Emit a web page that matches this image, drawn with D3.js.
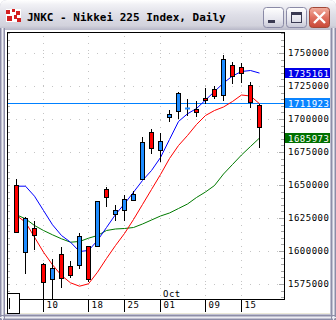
<!DOCTYPE html>
<html>
<head>
<meta charset="utf-8">
<script src="https://cdn.jsdelivr.net/npm/d3@7"></script>
<style>
  html, body { margin: 0; padding: 0; background: #fff; }
  svg { display: block; }
  text { font-family: "DejaVu Sans Mono", "Liberation Mono", monospace; }
</style>
</head>
<body>
<div id="chart"></div>
<script>
  var title = 'JNKC - Nikkei 225 Index, Daily';

  var dates = ['2007-09-05','2007-09-06','2007-09-07','2007-09-10','2007-09-11','2007-09-12','2007-09-13',
               '2007-09-14','2007-09-18','2007-09-19','2007-09-20','2007-09-21','2007-09-25','2007-09-26',
               '2007-09-27','2007-09-28','2007-10-01','2007-10-02','2007-10-03','2007-10-04','2007-10-05',
               '2007-10-09','2007-10-10','2007-10-11','2007-10-12','2007-10-15','2007-10-16','2007-10-17'];

  var opens  = [1650000,1599470,1617420,1589920,1578560,1597500,1588480,1589170,1603560,1603790,1646740,1627880,1631060,1638480,
                1654320,1689920,1676140,1701740,1705830,1707950,1707200,1716140,1722500,1718180,1740760,1739240,1725760,1710450];
  var highs  = [1654550,1625990,1622350,1590530,1593710,1603030,1592800,1613410,1603790,1637650,1648710,1634470,1642050,1645450,
                1686360,1692420,1689170,1706440,1720230,1714920,1713640,1723480,1724770,1748480,1743180,1742200,1728030,1710990];
  var lows   = [1614500,1583560,1601890,1564620,1564010,1572730,1580080,1587120,1577270,1603790,1633860,1623710,1623110,1638480,
                1654320,1674620,1667950,1698260,1700530,1703030,1702270,1712120,1715680,1714620,1727050,1728260,1709320,1678410];
  var closes = [1614620,1624770,1612120,1576140,1586970,1579170,1581440,1611740,1579020,1637500,1640680,1630910,1639240,1642950,
                1682350,1677800,1683710,1703640,1719470,1708110,1705680,1714550,1717050,1745230,1732200,1734700,1712650,1694170];

  var maShort = [1649470,1649470,1641890,1631060,1620230,1612120,1607050,1600000,1600760,1608330,1618180,1628030,1636140,1644920,
                 1653790,1661360,1671210,1684850,1698490,1704320,1708330,1714770,1721210,1727650,1732960,1736360,1737120,1735161];
  var maMid   = [1627270,1622200,1610830,1599470,1589920,1581820,1576290,1573710,1575530,1584320,1594700,1604550,1613640,1624240,
                 1635610,1646970,1658330,1670450,1680300,1687880,1696210,1703030,1706820,1709470,1713640,1718560,1717800,1711923];
  var maLong  = [1627800,1624770,1619700,1615910,1612650,1609620,1607050,1607580,1610080,1612120,1615910,1617050,1617420,1618180,
                 1620830,1623860,1626890,1629170,1632580,1635980,1640910,1645080,1650000,1658710,1665910,1673110,1679550,1685973];

  var level = 1711923;

  var priceTicks = [1575000,1600000,1625000,1650000,1675000,1700000,1725000,1750000];
  var dateTicks = ['2007-09-10','2007-09-18','2007-09-25','2007-10-01','2007-10-09','2007-10-15'];
  var dateTickLabels = ['10','18','25','01','09','15'];
  var monthLabel = 'Oct';
  var monthDate = '2007-10-01';

  var W = 336, H = 320;
  var plot = {left: 7, top: 32, right: 284, bottom: 299};

  var svg = d3.select('#chart').append('svg')
              .attr('width', W)
              .attr('height', H);

  var defs = svg.append('defs');
  function grad(id, stops){
    var g = defs.append('linearGradient').attr('id', id)
              .attr('x1', 0).attr('y1', 0).attr('x2', 0).attr('y2', 1);
    stops.forEach(function(s){
      g.append('stop').attr('offset', s[0]).attr('stop-color', s[1]);
    });
  }
  grad('titleGrad', [[0,'#ffffff'],[0.15,'#f1f1f5'],[0.5,'#dedee7'],[0.85,'#d2d2dc'],[1,'#b8b8c8']]);
  grad('btnGrad', [[0,'#ffffff'],[0.6,'#e6e6ee'],[1,'#c8c8d6']]);
  grad('closeGrad', [[0,'#f2b0a0'],[0.5,'#e07060'],[1,'#c84838']]);

  // window frame
  svg.append('path')
     .attr('d', 'M0,320 L0,7 Q0,0 7,0 L329,0 Q336,0 336,7 L336,320 Z')
     .attr('fill', '#c0c0d0');
  svg.append('path')
     .attr('d', 'M0,30 L0,7 Q0,0 7,0 L329,0 Q336,0 336,7 L336,30 Z')
     .attr('fill', 'url(#titleGrad)');
  [[0.5,'#8c8ca6'],[2.5,'#ececf2'],[4.5,'#8e8ea8']].forEach(function(s){
    svg.append('line').attr('x1', s[0]).attr('x2', s[0]).attr('y1', 28).attr('y2', 320)
       .attr('stroke', s[1]);
    svg.append('line').attr('x1', W - s[0]).attr('x2', W - s[0]).attr('y1', 28).attr('y2', 320)
       .attr('stroke', s[1]);
    svg.append('line').attr('x1', 0).attr('x2', W).attr('y1', H - s[0]).attr('y2', H - s[0])
       .attr('stroke', s[1]);
  });
  svg.append('rect')
     .attr('x', 5).attr('y', 30).attr('width', 325).attr('height', 284)
     .attr('fill', '#ffffff');
  svg.append('line').attr('x1', 5).attr('x2', 330).attr('y1', 313.5).attr('y2', 313.5)
     .attr('stroke', '#ece9d8');

  // title bar
  var ic = svg.append('g').attr('transform', 'translate(6,9)');
  ic.append('rect').attr('width', 15).attr('height', 13).attr('fill', '#ffffff');
  [[0,1,4,4],[6,0,3,3],[10,2,4,4],[1,7,5,5],[8,6,3,4],[11,9,4,4]].forEach(function(r){
    ic.append('rect').attr('x', r[0]).attr('y', r[1]).attr('width', r[2]).attr('height', r[3])
      .attr('fill', '#d42020');
  });
  svg.append('text')
     .attr('x', 27).attr('y', 21)
     .attr('font-size', 11).attr('font-weight', 'bold')
     .attr('fill', '#000')
     .text(title);

  var btns = [263.5, 286.5];
  btns.forEach(function(bx){
    svg.append('rect').attr('x', bx).attr('y', 7.5).attr('width', 20).attr('height', 20).attr('rx', 3)
       .attr('fill', 'url(#btnGrad)').attr('stroke', '#8a8aa6');
  });
  svg.append('rect').attr('x', 268).attr('y', 20).attr('width', 7).attr('height', 3).attr('fill', '#3a3a52');
  svg.append('rect').attr('x', 291.5).attr('y', 12.5).attr('width', 10).attr('height', 10)
     .attr('fill', 'none').attr('stroke', '#3a3a52');
  svg.append('rect').attr('x', 291).attr('y', 12).attr('width', 11).attr('height', 3).attr('fill', '#3a3a52');
  svg.append('rect').attr('x', 309.5).attr('y', 7.5).attr('width', 20).attr('height', 20).attr('rx', 3)
     .attr('fill', 'url(#closeGrad)').attr('stroke', '#a04838');
  svg.append('path').attr('d', 'M314,12 L325,23 M325,12 L314,23')
     .attr('stroke', '#ffffff').attr('stroke-width', 2.4);

  // scales
  var xs = d3.scalePoint().domain(dates).range([16, 259]);
  var ys = d3.scaleLinear().domain([1563636, 1765909]).range([plot.bottom, plot.top]);
  function py(v){ return Math.round(ys(v)) + 0.5; }

  var chart = svg.append('g');

  // dotted grid
  chart.selectAll('.hgrid')
       .data(priceTicks)
       .enter()
       .append('line')
       .attr('x1', 16).attr('x2', plot.right)
       .attr('y1', py).attr('y2', py)
       .attr('stroke', '#c4c4c4')
       .attr('stroke-dasharray', '1,8');
  chart.selectAll('.vgrid')
       .data(dateTicks)
       .enter()
       .append('line')
       .attr('x1', function(d){ return xs(d) + 0.5; })
       .attr('x2', function(d){ return xs(d) + 0.5; })
       .attr('y1', plot.top + 4).attr('y2', plot.bottom)
       .attr('stroke', '#c4c4c4')
       .attr('stroke-dasharray', '1,6');

  // small ticks on both inner edges
  var minor = d3.range(1565000, 1765001, 5000);
  chart.selectAll('.ltick')
       .data(minor)
       .enter()
       .append('line')
       .attr('x1', plot.left).attr('x2', plot.left + 3)
       .attr('y1', py).attr('y2', py)
       .attr('stroke', '#b8b8b8');
  chart.selectAll('.rtick')
       .data(minor)
       .enter()
       .append('line')
       .attr('x1', function(d){ return d % 25000 === 0 ? plot.right - 5 : plot.right - 3; })
       .attr('x2', plot.right)
       .attr('y1', py).attr('y2', py)
       .attr('stroke', '#a8a8a8');

  // level line
  chart.append('line')
       .attr('x1', plot.left).attr('x2', plot.right)
       .attr('y1', py(level)).attr('y2', py(level))
       .attr('stroke', '#0080ff')
       .attr('stroke-width', 1.2)
       .attr('shape-rendering', 'crispEdges');

  // moving averages
  var line = d3.line()
               .x(function(d, i){ return xs(dates[i]) + 0.5; })
               .y(function(d){ return ys(d) + 0.5; });
  [[maLong, '#007a00'], [maMid, '#ff0000'], [maShort, '#0000ff']].forEach(function(m){
    chart.append('path')
         .datum(m[0])
         .attr('d', line)
         .attr('fill', 'none')
         .attr('stroke', m[1])
         .attr('stroke-width', 1);
  });

  // candles
  var candles = chart.selectAll('.candle')
                     .data(dates)
                     .enter()
                     .append('g');
  candles.append('line')
         .attr('x1', function(d){ return xs(d) + 0.5; })
         .attr('x2', function(d){ return xs(d) + 0.5; })
         .attr('y1', function(d, i){ return Math.round(ys(highs[i])); })
         .attr('y2', function(d, i){ return Math.round(ys(lows[i])) + 1; })
         .attr('stroke', '#000');
  candles.each(function(d, i){
    var g = d3.select(this);
    var up = closes[i] >= opens[i];
    var color = up ? '#1e8cff' : '#ff0000';
    var top = Math.round(ys(Math.max(opens[i], closes[i])));
    var bot = Math.round(ys(Math.min(opens[i], closes[i])));
    if (bot - top < 2) {
      g.append('line')
       .attr('x1', xs(d) - 2).attr('x2', xs(d) + 3)
       .attr('y1', top + 0.5).attr('y2', top + 0.5)
       .attr('stroke', color).attr('stroke-width', 2);
    } else {
      g.append('rect')
       .attr('x', xs(d) - 1.5).attr('y', top + 0.5)
       .attr('width', 4).attr('height', bot - top)
       .attr('fill', color)
       .attr('stroke', '#000');
    }
  });

  // plot frame
  svg.append('rect')
     .attr('x', plot.left + 0.5).attr('y', plot.top + 0.5)
     .attr('width', plot.right - plot.left).attr('height', plot.bottom - plot.top)
     .attr('fill', 'none').attr('stroke', '#000');
  svg.append('rect')
     .attr('x', 7.5).attr('y', 293.5).attr('width', 12).attr('height', 20)
     .attr('fill', '#fff').attr('stroke', '#000');
  svg.append('line').attr('x1', 9.5).attr('x2', 9.5).attr('y1', 298).attr('y2', 309)
     .attr('stroke', '#000');

  // price axis
  var yAxis = svg.append('g')
                 .attr('transform', 'translate(288,0)')
                 .call(d3.axisRight(ys).tickValues(priceTicks).tickSize(0).tickPadding(0)
                         .tickFormat(d3.format('d')));
  yAxis.select('.domain').remove();
  yAxis.selectAll('text')
       .attr('font-family', '"DejaVu Sans Mono", monospace')
       .attr('font-size', 9)
       .attr('letter-spacing', 0.5)
       .attr('fill', '#000');

  // date axis
  var xAxis = svg.append('g')
                 .attr('transform', 'translate(0,' + plot.bottom + ')')
                 .call(d3.axisBottom(xs).tickValues(dateTicks).tickSize(13)
                         .tickFormat(function(d, i){ return dateTickLabels[i]; }));
  xAxis.select('.domain').remove();
  xAxis.selectAll('.tick line').attr('stroke', '#000');
  xAxis.selectAll('text')
       .attr('font-family', '"DejaVu Sans Mono", monospace')
       .attr('font-size', 9)
       .attr('letter-spacing', 0.5)
       .attr('text-anchor', 'start')
       .attr('x', 3).attr('y', 3).attr('dy', '0.71em')
       .attr('fill', '#000');
  svg.append('text')
     .attr('x', xs(monthDate) + 3).attr('y', plot.bottom - 2)
     .attr('font-size', 9).attr('letter-spacing', 0.5)
     .text(monthLabel);

  // last value boxes
  var boxes = [[maShort[maShort.length - 1], '#0000e8'], [level, '#0a84ff'], [maLong[maLong.length - 1], '#007000']];
  boxes.forEach(function(b){
    var y = Math.round(ys(b[0]));
    svg.append('rect')
       .attr('x', 285).attr('y', y - 5).attr('width', 45).attr('height', 10)
       .attr('fill', b[1]);
    svg.append('text')
       .attr('x', 288).attr('y', y + 3.5)
       .attr('font-size', 9).attr('letter-spacing', 0.5)
       .attr('fill', '#fff')
       .text(b[0]);
  });
</script>
</body>
</html>
